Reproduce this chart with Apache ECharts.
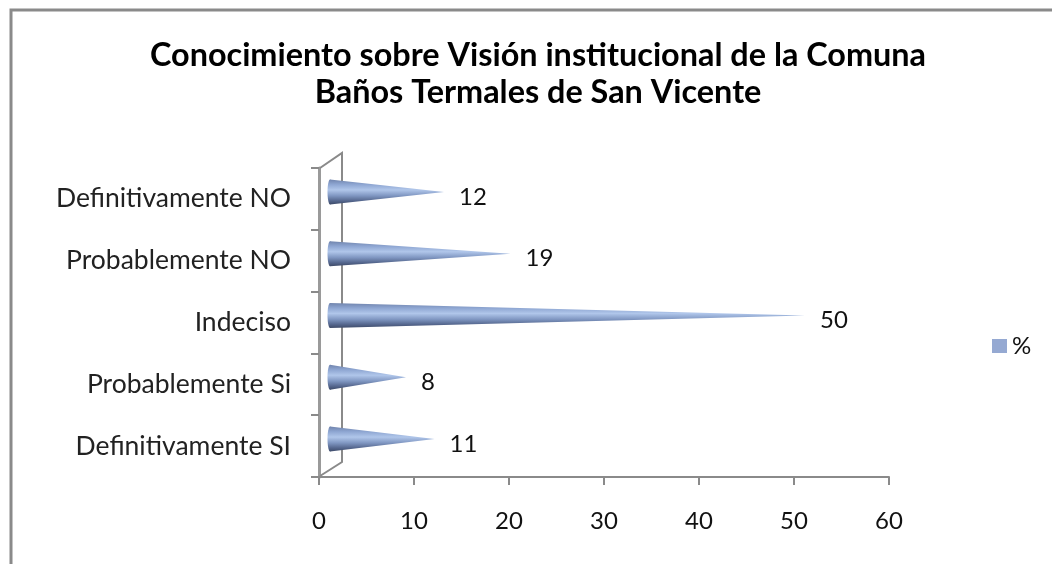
<!DOCTYPE html>
<html><head><meta charset="utf-8">
<style>html,body{margin:0;padding:0;background:#fff}#c{width:1052px;height:564px}</style>
<script src="https://cdn.jsdelivr.net/npm/echarts@6/dist/echarts.min.js"></script>
</head><body><div id="c"></div>
<script>
const categories = ['Definitivamente SI','Probablemente Si','Indeciso','Probablemente NO','Definitivamente NO'];
const values = [11,8,50,19,12];
const xTicks = {min:0,max:60,interval:10};
const seriesName = '%';
const titleLines = 'Conocimiento sobre Visión institucional de la Comuna\nBaños Termales de San Vicente';
const FONT = 'Lato';
const GRAY = '#8a8a8a';
const DX = 11, DY = -7, HALF = 12.5;

const chart = echarts.init(document.getElementById('c'), null, {renderer:'canvas'});
const coneFill = new echarts.graphic.LinearGradient(0,0,0,1,[
  {offset:0,color:'#7084ad'},{offset:0.2,color:'#8ea6d2'},{offset:0.42,color:'#b0c6ea'},
  {offset:0.65,color:'#8097c2'},{offset:0.85,color:'#56688f'},{offset:1,color:'#3d4a68'}]);
chart.setOption({
  backgroundColor:'#fff',
  animation:false,
  title:{text:titleLines,left:533,top:32,textAlign:'center',
    textStyle:{fontFamily:FONT,fontSize:32.4,fontWeight:'bold',color:'#000',lineHeight:37}},
  legend:{data:[{name:seriesName,icon:'rect',itemStyle:{color:'#95a9d2'}}],left:987,top:329,itemWidth:15,itemHeight:14,itemGap:7,
    textStyle:{fontFamily:FONT,fontSize:24,color:'#111'}},
  grid:{left:319,right:163,top:168,height:309},
  xAxis:{type:'value',min:xTicks.min,max:xTicks.max,interval:xTicks.interval,
    splitLine:{show:false},
    axisLine:{show:true,lineStyle:{color:GRAY,width:2}},
    axisTick:{show:true,length:8,lineStyle:{color:GRAY,width:2}},
    axisLabel:{fontFamily:FONT,fontSize:24,color:'#111',margin:32}},
  yAxis:{type:'category',data:categories,
    axisLine:{show:true,onZero:false,lineStyle:{color:'#9a9a9a',width:3}},
    axisTick:{show:true,length:8,alignWithLabel:false,lineStyle:{color:GRAY,width:2}},
    axisLabel:{fontFamily:FONT,fontSize:26.5,color:'#222',margin:28}},
  series:[
    {type:'custom',name:'walls',silent:true,coordinateSystem:'cartesian2d',legendHoverLink:false,
     data:[[0,0]],z:1,
     renderItem(p,api){
       const c=p.coordSys, st={stroke:GRAY,lineWidth:2,fill:null};
       const bx=c.x+23, ty=c.y-15, by=c.y+c.height-15;
       return {type:'polyline',shape:{points:[[c.x+1,c.y],[bx,ty],[bx,by],[c.x+1,c.y+c.height-1]]},style:st};
     }},
    {type:'custom',name:seriesName,coordinateSystem:'cartesian2d',z:3,
     itemStyle:{color:'#95a9d2'},
     encode:{x:0,y:1},
     data:values.map((v,i)=>[v,i]),
     renderItem(p,api){
       const o=api.coord([0,api.value(1)]), e=api.coord([api.value(0),api.value(1)]);
       const x0=o[0]+DX, y=o[1]+DY, tip=e[0]+DX;
       return {type:'group',children:[
         {type:'polygon',shape:{points:[[x0,y-HALF],[tip,y],[x0,y+HALF]]},style:{fill:coneFill}},
         {type:'ellipse',shape:{cx:x0,cy:y,rx:2.5,ry:HALF},style:{fill:coneFill}},
         {type:'text',style:{text:String(api.value(0)),x:tip+15,y:y+5,align:'left',verticalAlign:'middle',
           fontFamily:FONT,fontSize:24,fill:'#111'}}
       ]};
     }}
  ],
  graphic:[{type:'polyline',silent:true,shape:{points:[[11,564],[11,10],[1052,10]]},style:{stroke:GRAY,lineWidth:3,fill:null}}]
});
</script></body></html>
